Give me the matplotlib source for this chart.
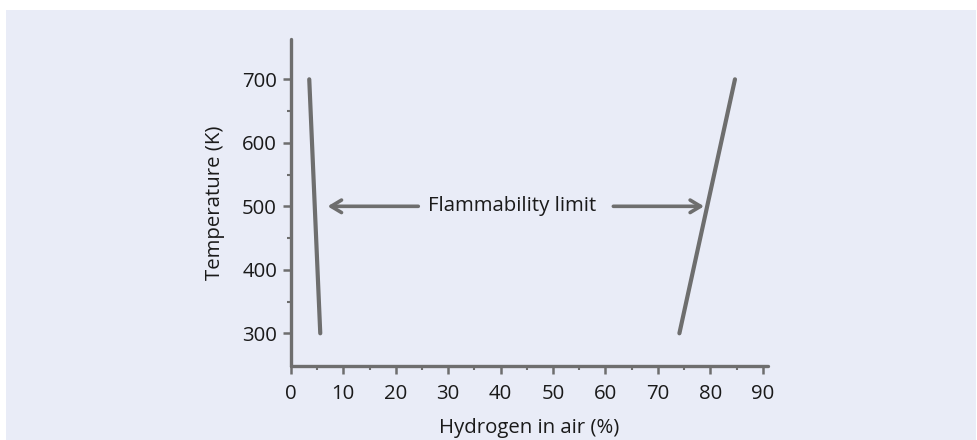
import matplotlib
matplotlib.use("Agg")
import matplotlib.pyplot as plt

plt.rcParams['font.family'] = ['Open Sans', 'DejaVu Sans']

# Data
temperature = [700, 300]
lower_limit = [3.5, 5.6]     # % hydrogen at 700 K, 300 K
upper_limit = [84.7, 74.1]
x_ticks = [0, 10, 20, 30, 40, 50, 60, 70, 80, 90]
y_ticks = [300, 400, 500, 600, 700]
annotation_text = "Flammability limit"
annotation_y = 500
arrow_left_tip = 7.0
arrow_right_tip = 78.8

bg = "#E9ECF7"
gray = "#6E6E6E"
txt = "#1a1a1a"
fs = 14.7

fig = plt.figure(figsize=(9.77, 4.4), dpi=100)
fig.patch.set_facecolor("white")

bgax = fig.add_axes([6/977, 0, 970/977, 430/440], zorder=-1)
bgax.set_facecolor(bg)
bgax.set_xticks([])
bgax.set_yticks([])
for s in bgax.spines.values():
    s.set_visible(False)

ax = fig.add_axes([290.9/977, 1 - 365.7/440, 477.1/977, (365.7 - 39.3)/440])
ax.set_facecolor("none")
ax.set_xlim(0, 91)
ax.set_ylim(249, 763)

for s in ["top", "right"]:
    ax.spines[s].set_visible(False)
for s in ["left", "bottom"]:
    ax.spines[s].set_color(gray)
    ax.spines[s].set_linewidth(2.4)
    ax.spines[s].set_capstyle("round")

ax.plot(lower_limit, temperature, color=gray, lw=3.0, solid_capstyle="round")
ax.plot(upper_limit, temperature, color=gray, lw=3.0, solid_capstyle="round")

ax.set_xticks(x_ticks)
ax.set_yticks(y_ticks)
ax.set_xticks([v + 5 for v in x_ticks[:-1]], minor=True)
ax.set_yticks([v + 50 for v in y_ticks[:-1]], minor=True)
ax.tick_params(which="major", length=6, width=1.8, color=gray, labelsize=fs, pad=4,
               labelcolor=txt)
ax.tick_params(axis="x", which="major", pad=7)
ax.tick_params(which="minor", length=3, width=1.5, color=gray)

ax.set_xlabel("Hydrogen in air (%)", fontsize=fs, color=txt, labelpad=10)
ax.set_ylabel("Temperature (K)", fontsize=fs, color=txt, labelpad=12)

ax.text(42.2, annotation_y, annotation_text, ha="center", va="center", fontsize=fs,
        color=txt)
ax.annotate("", xy=(arrow_left_tip, annotation_y), xytext=(24.3, annotation_y),
            arrowprops=dict(arrowstyle="->,head_length=0.75,head_width=0.45",
                            color=gray, lw=2.6, shrinkA=0, shrinkB=0))
ax.annotate("", xy=(arrow_right_tip, annotation_y), xytext=(61.5, annotation_y),
            arrowprops=dict(arrowstyle="->,head_length=0.75,head_width=0.45",
                            color=gray, lw=2.6, shrinkA=0, shrinkB=0))

fig.savefig("out.png", dpi=100)
